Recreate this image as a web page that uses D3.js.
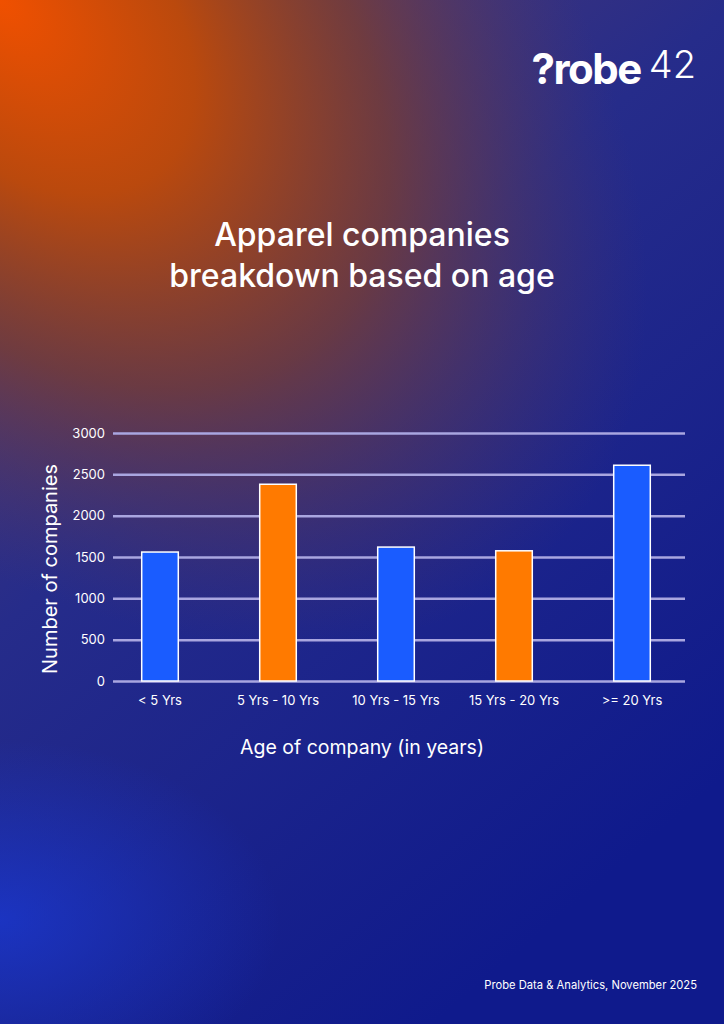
<!DOCTYPE html>
<html><head><meta charset="utf-8">
<script src="https://cdn.jsdelivr.net/npm/d3@7"></script>
<style>body{margin:0;background:#141a8a}svg{display:block;font-family:Inter,"Noto Sans",sans-serif}</style>
</head><body><svg id="svg"></svg>
<script>
var categories = ["< 5 Yrs", "5 Yrs - 10 Yrs", "10 Yrs - 15 Yrs", "15 Yrs - 20 Yrs", ">= 20 Yrs"];
var values = [1560, 2380, 1620, 1575, 2610];
var barColors = ["#1a5cff", "#ff7a00", "#1a5cff", "#ff7a00", "#1a5cff"];
var yTicks = [0, 500, 1000, 1500, 2000, 2500, 3000];

var width = 724, height = 1024;
var svg = d3.select("#svg").attr("width", width).attr("height", height);
var defs = svg.append("defs");

var lin = defs.append("linearGradient").attr("id", "bg").attr("x1", 0).attr("y1", 0).attr("x2", 0.6).attr("y2", 1);
lin.append("stop").attr("offset", "0").attr("stop-color", "#5a3c6a");
lin.append("stop").attr("offset", "0.45").attr("stop-color", "#262c8a");
lin.append("stop").attr("offset", "1").attr("stop-color", "#0f1a8c");
svg.append("rect").attr("width", width).attr("height", height).attr("fill", "url(#bg)");

var rad = defs.append("radialGradient").attr("id", "glow").attr("cx", 0).attr("cy", 0).attr("r", 1)
  .attr("gradientUnits", "userSpaceOnUse").attr("gradientTransform", "translate(0,0) rotate(45) scale(780,480)");
rad.append("stop").attr("offset", "0").attr("stop-color", "#f05000");
rad.append("stop").attr("offset", "0.3").attr("stop-color", "#c04a08").attr("stop-opacity", 0.95);
rad.append("stop").attr("offset", "0.6").attr("stop-color", "#8a4020").attr("stop-opacity", 0.65);
rad.append("stop").attr("offset", "1").attr("stop-color", "#5a3a60").attr("stop-opacity", 0);
svg.append("rect").attr("width", width).attr("height", height).attr("fill", "url(#glow)");

var rad2 = defs.append("radialGradient").attr("id", "glow2").attr("cx", 0).attr("cy", 0).attr("r", 1)
  .attr("gradientUnits", "userSpaceOnUse").attr("gradientTransform", "translate(0,920) scale(280,180)");
rad2.append("stop").attr("offset", "0").attr("stop-color", "#1a3ad8").attr("stop-opacity", 0.7);
rad2.append("stop").attr("offset", "1").attr("stop-color", "#1a3ad8").attr("stop-opacity", 0);
svg.append("rect").attr("width", width).attr("height", height).attr("fill", "url(#glow2)");

// logo
var logo = svg.append("text").attr("x", 696).attr("y", 84).attr("text-anchor", "end").attr("fill", "#fff");
logo.append("tspan").attr("font-size", 42).attr("font-weight", 700).attr("letter-spacing", -1.5).text("?robe");
logo.append("tspan").attr("font-size", 38).attr("font-weight", 300).attr("dx", 8).attr("dy", -6).text("42");

svg.append("text").attr("x", 362).attr("y", 246).attr("text-anchor", "middle").attr("fill", "#fff")
  .attr("font-size", 32).attr("font-weight", 500).text("Apparel companies");
svg.append("text").attr("x", 362).attr("y", 287).attr("text-anchor", "middle").attr("fill", "#fff")
  .attr("font-size", 32).attr("font-weight", 500).text("breakdown based on age");

var x = d3.scaleBand().domain(categories).range([101, 691]).paddingInner(0.69).paddingOuter(0.345);
var y = d3.scaleLinear().domain([0, 3000]).range([681, 433]);

var yAxis = svg.append("g").attr("transform", "translate(113,0)")
  .call(d3.axisLeft(y).tickValues(yTicks).tickFormat(d3.format("d")).tickSize(-572).tickPadding(8));
yAxis.select(".domain").remove();
yAxis.selectAll(".tick line").attr("stroke", "#a9a6e0").attr("stroke-width", 2.5);
yAxis.selectAll(".tick text").attr("fill", "#fff").attr("font-size", 13).attr("font-family", "Inter,sans-serif");

svg.selectAll(".bar").data(values).enter().append("rect")
  .attr("x", function(d, i) { return x(categories[i]); })
  .attr("y", function(d) { return y(d); })
  .attr("width", x.bandwidth())
  .attr("height", function(d) { return y(0) - y(d); })
  .attr("fill", function(d, i) { return barColors[i]; })
  .attr("stroke", "#fff").attr("stroke-width", 1.5);

var xAxis = svg.append("g").attr("transform", "translate(0,681)")
  .call(d3.axisBottom(x).tickSize(0).tickPadding(15));
xAxis.select(".domain").remove();
xAxis.selectAll(".tick text").attr("fill", "#fff").attr("font-size", 13).attr("font-family", "Inter,sans-serif");

svg.append("text").attr("transform", "translate(57,569) rotate(-90)").attr("text-anchor", "middle")
  .attr("fill", "#fff").attr("font-size", 20).text("Number of companies");
svg.append("text").attr("x", 362).attr("y", 754).attr("text-anchor", "middle")
  .attr("fill", "#fff").attr("font-size", 19.5).text("Age of company (in years)");

svg.append("text").attr("x", 697).attr("y", 989).attr("text-anchor", "end")
  .attr("fill", "#fff").attr("font-size", 11.2).text("Probe Data & Analytics, November 2025");
</script></body></html>
